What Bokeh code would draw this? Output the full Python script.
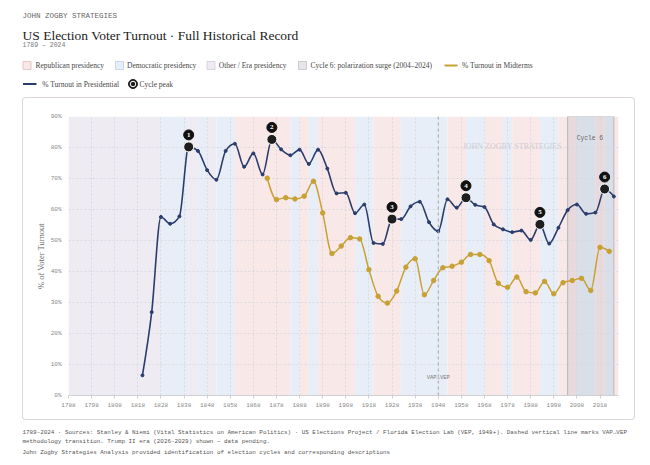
import numpy as np
from bokeh.plotting import figure
from bokeh.layouts import column
from bokeh.models import (Range1d, FixedTicker, PrintfTickFormatter, Span,
                          ColumnDataSource)
from bokeh.core.properties import value
from bokeh.embed import file_html
from bokeh.resources import INLINE

# ---------------------------------------------------------------- data
pres_years = list(range(1820, 2025, 4))
pres_turnout = [6.5, 26.9, 57.6, 55.4, 57.8, 80.2, 78.9, 72.7, 69.6, 78.9,
                81.2, 73.8, 78.1, 71.3, 82.6, 79.4, 77.5, 79.3, 74.7, 79.3,
                73.2, 65.2, 65.4, 58.8, 61.6, 49.2, 48.9, 56.9, 56.9, 61.0,
                62.5, 55.9, 53.0, 63.3, 60.6, 63.8, 61.5, 60.8, 55.2, 53.6,
                52.7, 53.2, 50.2, 55.2, 49.0, 54.1, 59.8, 61.6, 58.6, 59.0,
                66.6, 64.2]

mid_years = list(range(1874, 2023, 4))
mid_turnout = [70.1, 63.2, 63.8, 63.4, 64.3, 69.1, 58.9, 45.8, 48.2, 50.9,
               50.5, 40.6, 32.0, 29.8, 33.7, 41.4, 44.1, 32.5, 37.1, 41.2,
               41.7, 43.0, 45.5, 45.5, 43.5, 36.2, 34.9, 38.2, 33.5, 33.1,
               36.8, 32.8, 36.4, 37.1, 37.8, 33.9, 47.8, 46.5]

# presidency eras: start election, end election, party
band_start = [1788, 1828, 1840, 1844, 1848, 1852, 1860, 1884, 1888, 1892,
              1896, 1912, 1920, 1932, 1952, 1960, 1968, 1976, 1980, 1992,
              2000, 2008, 2016, 2020, 2024]
band_end = [1828, 1840, 1844, 1848, 1852, 1860, 1884, 1888, 1892, 1896,
            1912, 1920, 1932, 1952, 1960, 1968, 1976, 1980, 1992, 2000,
            2008, 2016, 2020, 2024, 2026]
band_party = ["O", "D", "O", "D", "O", "D", "R", "D", "R", "D",
              "R", "D", "R", "D", "R", "D", "R", "D", "R", "D",
              "R", "D", "R", "D", "R"]

peak_years = [1840, 1876, 1928, 1960, 1992, 2020]
peak_labels = ["1", "2", "3", "4", "5", "6"]

cycle6_span = [2004, 2024]
vep_year = 1948

x_ticks = list(range(1788, 2019, 10))
y_ticks = list(range(0, 91, 10))

# ---------------------------------------------------------------- style
PARTY_FILL = {"R": "#f9e8e8", "D": "#e8eef7", "O": "#efebf3"}
NAVY = "#2a3d6c"
GOLD = "#c8a135"
SERIF = value("Liberation Serif")
MONO = value("Liberation Mono")

X0, X1 = 1788, 2026
Y0, Y1 = 0, 90
CARD_LEFT = 22
FIG_W, FIG_H = 613, 323
B_LEFT, B_RIGHT, B_TOP, B_BOTTOM = 46, 17, 19, 25
FRAME_H = FIG_H - B_TOP - B_BOTTOM
PX_PER_PCT = FRAME_H / (Y1 - Y0)


def monotone_beziers(xs, ys):
    """Cubic segments of a monotone-x curve through the points."""
    x = np.asarray(xs, float)
    y = np.asarray(ys, float)
    n = len(x)
    h = np.diff(x)
    s = np.diff(y) / h
    m = np.zeros(n)
    for i in range(1, n - 1):
        h0, h1, s0, s1 = h[i - 1], h[i], s[i - 1], s[i]
        p = (s0 * h1 + s1 * h0) / (h0 + h1)
        m[i] = (np.sign(s0) + np.sign(s1)) * min(abs(s0), abs(s1), 0.5 * abs(p))
    m[0] = (3 * s[0] - m[1]) / 2
    m[-1] = (3 * s[-1] - m[-2]) / 2
    return dict(x0=x[:-1], y0=y[:-1], x1=x[1:], y1=y[1:],
                cx0=x[:-1] + h / 3, cy0=y[:-1] + m[:-1] * h / 3,
                cx1=x[1:] - h / 3, cy1=y[1:] - m[1:] * h / 3)


def text_panel(height):
    """A plain full-canvas figure whose data units are pixels (y down)."""
    f = figure(width=650, height=height, x_range=Range1d(0, 650),
               y_range=Range1d(height, 0), output_backend="svg",
               toolbar_location=None, x_axis_location=None,
               y_axis_location=None, min_border_left=0, min_border_right=0,
               min_border_top=0, min_border_bottom=0, outline_line_color=None)
    f.grid.visible = False
    f.frame_align = False
    return f


# ---------------------------------------------------------------- header
HEAD_H = 97
hd = text_panel(HEAD_H)
hd.text(x=[22], y=[15], text=["JOHN ZOGBY STRATEGIES"], text_font=MONO,
        text_font_size="7.5px", text_color="#666666", text_baseline="middle")
hd.text(x=[22], y=[35], text=["US Election Voter Turnout \u00b7 Full Historical Record"],
        text_font=SERIF, text_font_size="13.5px", text_color="#222222",
        text_baseline="alphabetic")
hd.text(x=[22], y=[44.5], text=["1789 \u2013 2024"], text_font=MONO,
        text_font_size="6.5px", text_color="#777777", text_baseline="middle")

sw_x = [26.5, 119, 210.5, 302]
sw_fill = [PARTY_FILL["R"], PARTY_FILL["D"], PARTY_FILL["O"], "#e6e6ea"]
sw_line = ["#e6c6c6", "#c9d6ea", "#d8d2e2", "#cbcbd0"]
hd.rect(x=sw_x, y=[65] * 4, width=8, height=8, fill_color=sw_fill,
        line_color=sw_line, line_width=1)
leg_txt_x = [35, 126.5, 218.3, 310, 461.5]
leg_txt = ["Republican presidency", "Democratic presidency", "Other / Era presidency",
           "Cycle 6: polarization surge (2004\u20132024)", "% Turnout in Midterms"]
hd.text(x=leg_txt_x, y=[65] * 5, text=leg_txt, text_font=SERIF,
        text_font_size="7.5px", text_color="#474747", text_baseline="middle")
hd.segment(x0=[444], y0=[65], x1=[457], y1=[65], line_color=GOLD, line_width=2)
hd.segment(x0=[22.5], y0=[83.5], x1=[36], y1=[83.5], line_color=NAVY, line_width=2)
hd.text(x=[41.7, 139], y=[83.5, 83.5], text=["% Turnout in Presidential", "Cycle peak"],
        text_font=SERIF, text_font_size="7.5px", text_color="#474747",
        text_baseline="middle")
hd.scatter(x=[132.5], y=[83.5], size=9, fill_color="#1e1e1e", line_color="#1e1e1e")
hd.scatter(x=[132.5], y=[83.5], size=5.5, fill_color="#1e1e1e", line_color="white",
           line_width=1)

# ---------------------------------------------------------------- chart
p = figure(width=FIG_W, height=FIG_H, x_range=Range1d(X0, X1),
           y_range=Range1d(Y0, Y1), output_backend="svg", toolbar_location=None,
           min_border_left=B_LEFT, min_border_right=B_RIGHT,
           min_border_top=B_TOP, min_border_bottom=B_BOTTOM,
           outline_line_color=None, background_fill_color="white",
           border_fill_color="white", border_fill_alpha=0,
           margin=(0, 0, 0, CARD_LEFT))
p.frame_align = False
# rounded card behind the chart (seen through the transparent border area)
p.styles = {"box-shadow": "inset 0 0 0 1px #dcd6d6", "border-radius": "4px",
            "background-color": "white"}

p.quad(left=band_start, right=band_end, bottom=Y0, top=Y1,
       fill_color=[PARTY_FILL[k] for k in band_party], line_color=None,
       level="image")
p.quad(left=[cycle6_span[0]], right=[cycle6_span[1]], bottom=Y0, top=Y1,
       fill_color="#5a6072", fill_alpha=0.10, line_color="#a9a9b2",
       line_width=1, line_alpha=0.8, level="image")

for g in (p.xgrid, p.ygrid):
    g.grid_line_color = "#d6d6dc"
    g.grid_line_dash = "2 2"
    g.grid_line_alpha = 0.8
p.xgrid.ticker = FixedTicker(ticks=x_ticks)
p.ygrid.ticker = FixedTicker(ticks=y_ticks)

p.add_layout(Span(location=vep_year, dimension="height", line_color="#a6a6ae",
                  line_dash="3 3", line_width=1))

# midterm series
p.bezier(source=ColumnDataSource(monotone_beziers(mid_years, mid_turnout)),
         x0="x0", y0="y0", x1="x1", y1="y1", cx0="cx0", cy0="cy0",
         cx1="cx1", cy1="cy1", line_color=GOLD, line_width=1.5)
p.scatter(x=mid_years, y=mid_turnout, size=4.5, fill_color=GOLD, line_color=GOLD)

# presidential series
p.bezier(source=ColumnDataSource(monotone_beziers(pres_years, pres_turnout)),
         x0="x0", y0="y0", x1="x1", y1="y1", cx0="cx0", cy0="cy0",
         cx1="cx1", cy1="cy1", line_color=NAVY, line_width=1.6)
p.scatter(x=pres_years, y=pres_turnout, size=3, fill_color=NAVY, line_color=NAVY)

# cycle peaks with numbered badges
peak_vals = [pres_turnout[pres_years.index(yr)] for yr in peak_years]
badge_y = [v + 12 / PX_PER_PCT for v in peak_vals]
p.scatter(x=peak_years, y=peak_vals, size=10, fill_color="#1e1e1e",
          line_color="white", line_width=1)
p.scatter(x=peak_years, y=badge_y, size=10, fill_color="#111111",
          line_color="#111111")
p.text(x=peak_years, y=badge_y, text=peak_labels, text_font=SERIF,
       text_font_size="7px", text_font_style="bold", text_color="white",
       text_align="center", text_baseline="middle")

# annotations inside the plot area
p.text(x=[vep_year], y=[Y0], text=["VAP\u2192VEP"], text_font=MONO,
       text_font_size="5.5px", text_color="#777777", text_align="center",
       text_baseline="middle", y_offset=-18)
p.text(x=[cycle6_span[0]], y=[Y1], text=["Cycle 6"], text_font=MONO,
       text_font_size="6.3px", text_color="#666666", text_baseline="middle",
       x_offset=9, y_offset=22)
p.text(x=[1980], y=[80.3], text=["JOHN ZOGBY STRATEGIES"], text_font=SERIF,
       text_font_size="8px", text_color="#c4c4cc", text_alpha=0.8,
       text_align="center", text_baseline="middle")

# axes
p.xaxis.ticker = FixedTicker(ticks=x_ticks)
p.xaxis.axis_line_color = "#cfcfd4"
p.xaxis.major_tick_line_color = "#cfcfd4"
p.xaxis.major_tick_out = 3
p.xaxis.major_tick_in = 0
p.xaxis.minor_tick_line_color = None
p.xaxis.major_label_standoff = 4
p.yaxis.ticker = FixedTicker(ticks=y_ticks)
p.yaxis.formatter = PrintfTickFormatter(format="%d%%")
p.yaxis.axis_line_color = None
p.yaxis.major_tick_line_color = None
p.yaxis.major_tick_out = 0
p.yaxis.major_tick_in = 0
p.yaxis.minor_tick_line_color = None
p.yaxis.minor_tick_out = 0
p.yaxis.major_label_standoff = 7
p.yaxis.axis_label = "% of Voter Turnout"
p.yaxis.axis_label_text_font = "Liberation Serif"
p.yaxis.axis_label_text_font_size = "8.5px"
p.yaxis.axis_label_text_font_style = "normal"
p.yaxis.axis_label_text_color = "#666666"
p.yaxis.axis_label_standoff = 2
for ax in (p.xaxis, p.yaxis):
    ax.major_label_text_font = "Liberation Mono"
    ax.major_label_text_font_size = "6px"
    ax.major_label_text_color = "#888888"

# ---------------------------------------------------------------- footer
FOOT_H = 45
ft = text_panel(FOOT_H)
foot_lines = [
    "1789\u20132024 \u00b7 Sources: Stanley & Niemi (Vital Statistics on American Politics) \u00b7 "
    "US Elections Project / Florida Election Lab (VEP, 1948+). Dashed vertical line marks VAP\u2192VEP",
    "methodology transition. Trump II era (2026\u20132029) shown \u2014 data pending.",
    "John Zogby Strategies Analysis provided identification of election cycles and corresponding descriptions",
]
ft.text(x=[22, 22, 22], y=[12, 21, 31.5], text=foot_lines, text_font=MONO,
        text_font_size="5.9px", text_color="#555555", text_baseline="middle")

layout = column(hd, p, ft, spacing=0)
open("out.html", "w").write(file_html(layout, INLINE))
